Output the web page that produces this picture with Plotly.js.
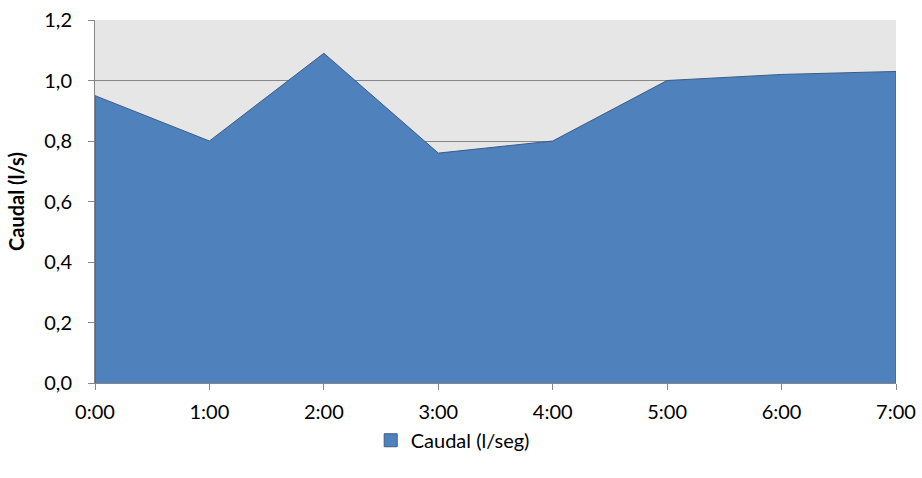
<!DOCTYPE html>
<html>
<head>
<meta charset="utf-8">
<script src="https://cdn.plot.ly/plotly-3.0.1.min.js"></script>
<style>html,body{margin:0;padding:0;background:#fff;}#chart{width:922px;height:478px;}</style>
</head>
<body>
<div id="chart"></div>
<script>
const hours = ["0:00", "1:00", "2:00", "3:00", "4:00", "5:00", "6:00", "7:00"];
const caudal = [0.95, 0.80, 1.09, 0.76, 0.80, 1.00, 1.02, 1.03];
const seriesName = "Caudal (l/seg)";
const yTitle = "Caudal (l/s)";

// closed outline polygon (Excel draws the border around the whole area)
const xs = [hours[0]].concat(hours, [hours[hours.length - 1]]);
const ys = [0].concat(caudal, [0]);

const areaTrace = {
  x: xs,
  y: ys,
  type: "scatter",
  mode: "lines",
  fill: "toself",
  fillcolor: "#4F81BD",
  line: { color: "#385D8A", width: 1 },
  name: seriesName,
  showlegend: false,
  hoverinfo: "skip"
};

// legend entry drawn as a square swatch
const legendTrace = {
  x: [null],
  y: [null],
  type: "scatter",
  mode: "markers",
  marker: { symbol: "square", size: 13, color: "#4F81BD", line: { color: "#385D8A", width: 1 } },
  name: seriesName,
  showlegend: true,
  hoverinfo: "skip"
};

const font = "Lato, 'Open Sans', 'Liberation Sans', sans-serif";

const layout = {
  width: 922,
  height: 478,
  margin: { l: 95, r: 26, t: 20, b: 95 },
  paper_bgcolor: "#ffffff",
  plot_bgcolor: "#E6E6E6",
  separators: ",.",
  font: { family: font, size: 20, color: "#000000" },
  xaxis: {
    type: "category",
    categoryarray: hours,
    range: [0, hours.length - 1],
    showgrid: false,
    showline: true,
    linecolor: "#868686",
    linewidth: 1,
    ticks: "outside",
    ticklen: 6,
    tickcolor: "#868686",
    ticklabelstandoff: 5,
    tickfont: { family: font, size: 20, color: "#000" },
    zeroline: false,
    automargin: false
  },
  yaxis: {
    range: [0, 1.2],
    dtick: 0.2,
    tick0: 0,
    tickformat: ".1f",
    showgrid: true,
    gridcolor: "#878787",
    gridwidth: 1,
    showline: true,
    linecolor: "#868686",
    linewidth: 1,
    ticks: "outside",
    ticklen: 6,
    tickcolor: "#868686",
    ticklabelstandoff: 12,
    tickfont: { family: font, size: 20, color: "#000" },
    zeroline: false,
    automargin: false,
    title: { text: "<b>" + yTitle + "</b>", font: { family: font, size: 20, color: "#000" }, standoff: 14 }
  },
  legend: {
    orientation: "h",
    xref: "container",
    yref: "container",
    x: 0.491,
    xanchor: "center",
    y: 0.079,
    yanchor: "middle",
    itemwidth: 30,
    font: { family: font, size: 20, color: "#000" },
    bgcolor: "rgba(0,0,0,0)"
  },
  showlegend: true
};

Plotly.newPlot("chart", [areaTrace, legendTrace], layout, { displayModeBar: false, staticPlot: true });
</script>
</body>
</html>
